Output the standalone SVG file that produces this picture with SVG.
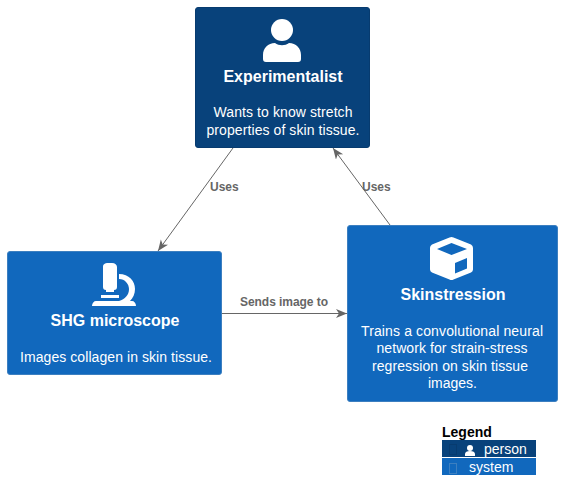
<svg xmlns="http://www.w3.org/2000/svg" width="563" height="498" viewBox="0 0 563 498">
<style>
text{font-family:"Liberation Sans",Arial,sans-serif}
.t{font-size:16px;font-weight:bold;fill:#fff;text-anchor:middle}
.d{font-size:14px;fill:#fff;text-anchor:middle}
.l{font-size:12px;font-weight:bold;fill:#666}
.c{stroke:#666;stroke-width:1;fill:none;marker-end:url(#a)}
.i{fill:#fff}
.g{font-size:14px;fill:#fff}
</style>
<defs>
<marker id="a" markerUnits="userSpaceOnUse" markerWidth="12" markerHeight="10" refX="11" refY="4.500" orient="auto"><path d="M0 0L11 4.500L0 9L3 4.500Z" fill="#666"/></marker>
</defs>
<g id="connectors">
<path class="c" d="M233 148L158 251"/>
<path class="c" d="M390 225L333 148"/>
<path class="c" d="M222 313.500L347 313.500"/>
<text class="l" x="210" y="191">Uses</text>
<text class="l" x="362" y="191">Uses</text>
<text class="l" x="240" y="306" textLength="88">Sends image to</text>
</g>
<g id="experimentalist">
<rect x="195.500" y="7.500" width="174" height="140" rx="2.500" fill="#08427B" stroke="#073B6F"/>
<circle class="i" cx="282" cy="30" r="11"/>
<path class="i" d="M263 59V55C263 48 268 43 275 43C279 46 285 46 289 43C296 43 301 48 301 55V59C301 61 300 62 298 62H266C264 62 263 61 263 59Z"/>
<text class="t" x="283" y="82">Experimentalist</text>
<text class="d" x="283" y="117" textLength="139">Wants to know stretch</text>
<text class="d" x="283" y="135" textLength="153">properties of skin tissue.</text>
</g>
<g id="shg-microscope">
<rect x="7.500" y="251.500" width="214" height="123" rx="2.500" fill="#1168BD" stroke="#3C7FC0"/>
<path class="i" d="M103 267C103 264 105 263 108 263H112C115 263 117 265 117 267V287C117 289 116 290 114 290V292H106V290C104 290 103 289 103 287Z"/>
<path class="i" d="M101 295H119V298H101Z"/>
<path class="i" d="M119 274C129 274 135 281 135 289C135 294 133 298 130 301H132C134 301 136 303 136 306H92C92 303 94 301 96 301H119C125 299 129 295 129 289C129 284 125 279 119 279Z"/>
<text class="t" x="115" y="326">SHG microscope</text>
<text class="d" x="116" y="362" textLength="192">Images collagen in skin tissue.</text>
</g>
<g id="skinstression">
<rect x="347.500" y="225.500" width="210" height="176" rx="2.500" fill="#1168BD" stroke="#3C7FC0"/>
<path class="i" fill-rule="evenodd" d="M449.500 237.500Q451.500 236.500 453.500 237.500L471 244.500Q473 245.500 473 248V269.500Q473 271.500 471 272.500L453.500 279.500Q451.500 280.500 449.500 279.500L432 272.500Q430 271.500 430 269.500V248Q430 245.500 432 244.500ZM451.500 243L437 249L451.500 255L467 249ZM467 258L455 263V273.500L467 268.500Z"/>
<text class="t" x="453" y="300">Skinstression</text>
<text class="d" x="452" y="336" textLength="182">Trains a convolutional neural</text>
<text class="d" x="452" y="353" textLength="151">network for strain-stress</text>
<text class="d" x="450" y="371" textLength="156">regression on skin tissue</text>
<text class="d" x="452.500" y="388" textLength="49">images.</text>
</g>
<g id="legend">
<text x="442" y="437" font-size="14" font-weight="bold" fill="#000">Legend</text>
<rect x="442" y="440" width="94" height="17" fill="#08427B"/>
<rect x="442" y="458" width="94" height="17" fill="#1168BD"/>
<rect x="449.500" y="444.500" width="7" height="10" fill="none" stroke="#073B6F"/>
<rect x="449.500" y="463.500" width="7" height="10" fill="none" stroke="#3C7FC0"/>
<circle class="i" cx="470" cy="448" r="3"/>
<path class="i" d="M465 456V454C465 452 467 451 470 451C473 451 475 452 475 454V456Z"/>
<text class="g" x="484" y="454">person</text>
<text class="g" x="469" y="472">system</text>
</g>
</svg>
